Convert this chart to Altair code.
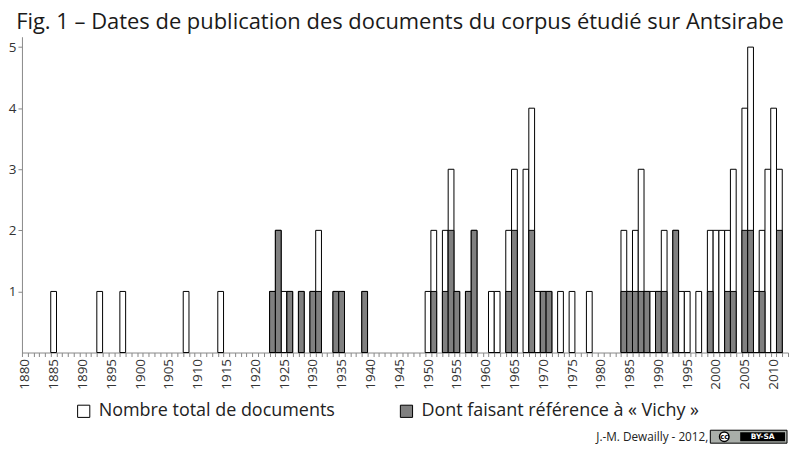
import altair as alt
import pandas as pd

# ---- data ----
years = [1885, 1893, 1897, 1908, 1914,
         1923, 1924, 1925, 1926, 1928, 1930, 1931, 1934, 1935, 1939,
         1950, 1951, 1953, 1954, 1955, 1957, 1958, 1961, 1962, 1964, 1965,
         1967, 1968, 1969, 1970, 1971, 1973, 1975, 1978,
         1984, 1985, 1986, 1987, 1988, 1989, 1990, 1991, 1993, 1994, 1995,
         1997, 1999, 2000, 2001, 2002, 2003, 2005, 2006, 2007, 2008, 2009,
         2010, 2011]
total_docs = [1, 1, 1, 1, 1,
              1, 2, 1, 1, 1, 1, 2, 1, 1, 1,
              1, 2, 2, 3, 1, 1, 2, 1, 1, 2, 3,
              3, 4, 1, 1, 1, 1, 1, 1,
              2, 1, 2, 3, 1, 1, 1, 2, 2, 1, 1,
              1, 2, 2, 2, 2, 3, 4, 5, 1, 2, 3,
              4, 3]
vichy_docs = [0, 0, 0, 0, 0,
              1, 2, 0, 1, 1, 1, 1, 1, 1, 1,
              0, 1, 1, 2, 1, 1, 2, 0, 0, 1, 2,
              0, 2, 0, 1, 1, 0, 0, 0,
              1, 1, 1, 1, 1, 0, 1, 1, 2, 0, 0,
              0, 1, 0, 0, 1, 1, 2, 2, 0, 1, 0,
              0, 2]
categories = list(range(1880, 2013))
series_names = ["Nombre total de documents", "Dont faisant référence à « Vichy »"]
y_ticks = [1, 2, 3, 4, 5]

title_text = "Fig. 1 – Dates de publication des documents du corpus étudié sur Antsirabe"
credit_text = "J.-M. Dewailly - 2012,"

FONT = "Open Sans"
W, H = 769, 317

df_total = pd.DataFrame({"year": years, "value": total_docs, "series": series_names[0]})
df_vichy = pd.DataFrame({"year": years, "value": vichy_docs, "series": series_names[1]})
df_vichy = df_vichy[df_vichy["value"] > 0]

x_enc = alt.X(
    "year:O",
    scale=alt.Scale(domain=categories, paddingInner=0, paddingOuter=0),
    axis=alt.Axis(
        values=categories,
        labelExpr="datum.value % 5 == 0 ? datum.label : ''",
        labelAngle=270, labelAlign="right", labelBaseline="middle",
        tickBand="extent", tickSize=4, tickColor="#888888",
        domainColor="#888888", labelFontSize=13.5, labelFont=FONT,
        labelColor="#333333", labelOverlap=False, labelPadding=2, title=None,
    ),
)
y_enc = alt.Y(
    "value:Q",
    scale=alt.Scale(domain=[0, 5.17], nice=False, zero=True),
    axis=alt.Axis(
        values=y_ticks, grid=False, tickSize=4, tickColor="#888888",
        domainColor="#888888", labelFontSize=13.5, labelFont=FONT,
        labelColor="#333333", labelPadding=2, title=None,
    ),
)
fill_enc = alt.Fill(
    "series:N",
    scale=alt.Scale(domain=series_names, range=["white", "#808080"]),
    legend=alt.Legend(
        title=None, orient="none", legendX=53, legendY=367,
        direction="horizontal", symbolType="square", symbolSize=150,
        symbolStrokeColor="black", symbolStrokeWidth=1,
        labelFontSize=18, labelFont=FONT, labelColor="#222222",
        columnPadding=62, labelOffset=6, labelLimit=500,
    ),
)

bars_total = alt.Chart(df_total).mark_bar(stroke="black", strokeWidth=1).encode(
    x=x_enc, y=y_enc, fill=fill_enc
)
bars_vichy = alt.Chart(df_vichy).mark_bar(stroke="black", strokeWidth=1).encode(
    x=x_enc, y=y_enc, fill=fill_enc
)

one = pd.DataFrame({"t": [credit_text]})
credit = alt.Chart(one).mark_text(
    font=FONT, fontSize=11.8, align="right", baseline="middle", color="#222222"
).encode(x=alt.value(689), y=alt.value(402), text="t:N")

badge_outer = alt.Chart(one).mark_rect(fill="#a9aea9", stroke="black", strokeWidth=1).encode(
    x=alt.value(691), x2=alt.value(768), y=alt.value(395), y2=alt.value(408)
)
badge_inner = alt.Chart(one).mark_rect(fill="black").encode(
    x=alt.value(721), x2=alt.value(766), y=alt.value(397), y2=alt.value(406)
)
badge_circle = alt.Chart(one).mark_point(
    shape="circle", filled=True, fill="white", stroke="black", strokeWidth=1.5, size=90, opacity=1
).encode(x=alt.value(705), y=alt.value(401.5))
badge_cc = alt.Chart(pd.DataFrame({"t": ["cc"]})).mark_text(
    font="DejaVu Sans", fontSize=7, fontWeight="bold", color="black", align="center", baseline="middle"
).encode(x=alt.value(705), y=alt.value(401.5), text="t:N")
badge_by = alt.Chart(pd.DataFrame({"t": ["BY-SA"]})).mark_text(
    font="DejaVu Sans", fontSize=7.5, fontWeight="bold", color="white", align="center", baseline="middle"
).encode(x=alt.value(743.5), y=alt.value(401.5), text="t:N")

chart = alt.layer(
    bars_total, bars_vichy, credit, badge_outer, badge_inner, badge_circle, badge_cc, badge_by
).properties(
    width=W, height=H,
    padding={"top": 2, "left": 0, "right": 0, "bottom": 0},
    title=alt.TitleParams(
        title_text, fontSize=22, font=FONT, fontWeight="normal", anchor="middle",
        frame="bounds", offset=3, color="#1a1a1a",
    ),
).configure_view(stroke=None)

chart.save("out.html", embed_options={"renderer": "svg", "actions": False})
